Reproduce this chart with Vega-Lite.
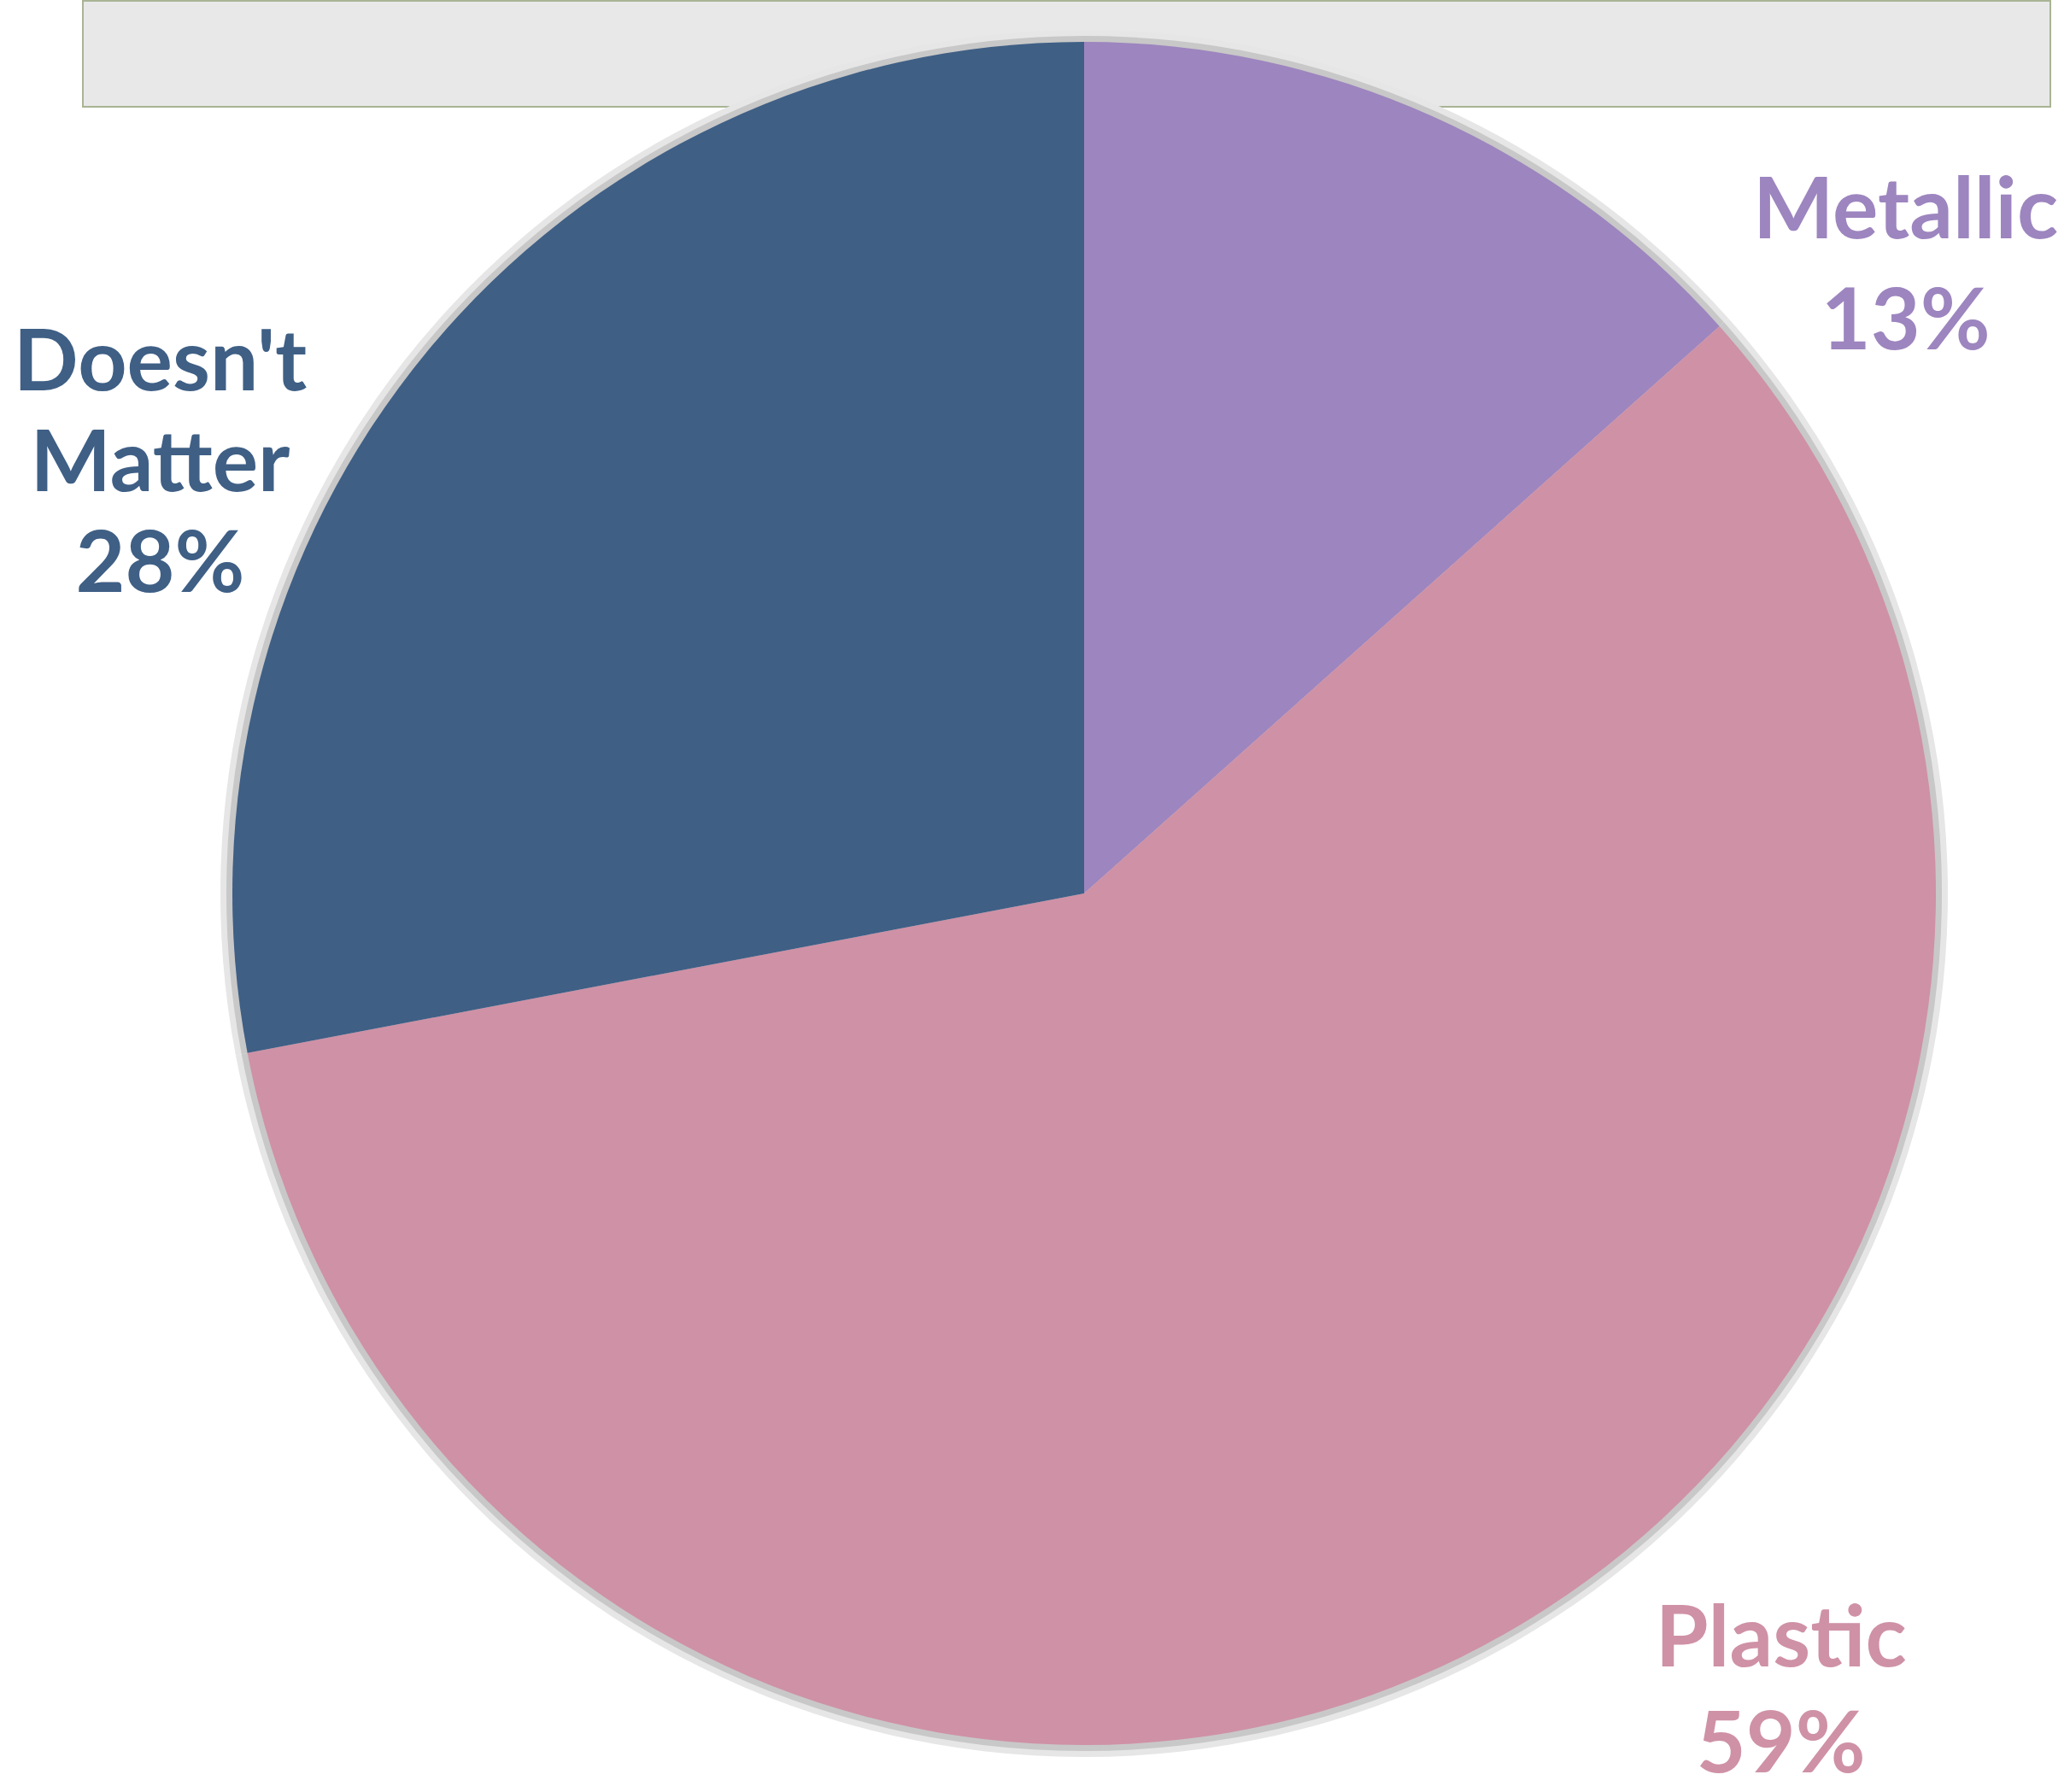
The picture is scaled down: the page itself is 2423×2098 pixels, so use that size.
{
  "$schema": "https://vega.github.io/schema/vega-lite/v6.json",
  "padding": {"left": 15, "top": 0, "right": 0, "bottom": 0},
  "background": "#FFFFFF",
  "bounds": "flush",
  "spacing": 0,
  "config": {
    "view": {"stroke": null},
    "concat": {"spacing": 0},
    "text": {"font": "Lato", "fontWeight": "bold", "fontSize": 100, "align": "center", "baseline": "alphabetic"}
  },
  "datasets": {
    "shares": [
      {"category": "Metallic", "value": 13.4},
      {"category": "Plastic", "value": 58.6},
      {"category": "Doesn't Matter", "value": 28.0}
    ]
  },
  "vconcat": [
    {"width": 2303, "height": 124, "view": {"fill": "#E8E8E8", "stroke": "#A8B494", "strokeWidth": 2}, "data": {"values": []}, "mark": {"type": "text", "text": ""}},
    {
      "width": 2344,
      "height": 1842,
      "data": {"name": "shares"},
      "transform": [
        {"calculate": "datum.category == 'Metallic' ? 0 : (datum.category == 'Plastic' ? 1 : 2)", "as": "idx"},
        {"stack": "value", "groupby": [], "sort": [{"field": "idx", "order": "ascending"}], "as": ["v0", "v1"]},
        {"calculate": "(datum.v0 + datum.v1) / 2", "as": "mid"},
        {"calculate": "split(replace(datum.category, ' ', '\\n') + '\\n' + format(datum.value, '.0f') + '%', '\\n')", "as": "label"}
      ],
      "layer": [
        {
          "mark": {"type": "arc", "radius": 1011, "fill": "#E6E6E6", "stroke": null},
          "encoding": {
            "theta": {"field": "v0", "type": "quantitative", "stack": null, "scale": {"domain": [0, 100]}},
            "theta2": {"field": "v1"}
          }
        },
        {
          "mark": {"type": "arc", "radius": 1004, "fill": "#C8C8C8", "stroke": null},
          "encoding": {
            "theta": {"field": "v0", "type": "quantitative", "stack": null},
            "theta2": {"field": "v1"}
          }
        },
        {
          "mark": {"type": "arc", "radius": 997, "stroke": null},
          "encoding": {
            "theta": {"field": "v0", "type": "quantitative", "stack": null},
            "theta2": {"field": "v1"},
            "color": {
              "field": "category",
              "type": "nominal",
              "scale": {"domain": ["Metallic", "Plastic", "Doesn't Matter"], "range": ["#9D85BF", "#CF91A6", "#3F5F85"]},
              "legend": null
            }
          }
        },
        {
          "transform": [{"filter": "datum.category == 'Metallic'"}],
          "mark": {"type": "text", "radius": 1000, "dx": 553, "dy": 146, "lineHeight": 130},
          "encoding": {
            "theta": {"field": "mid", "type": "quantitative", "stack": null},
            "text": {"field": "label"},
            "color": {"field": "category", "type": "nominal", "legend": null}
          }
        },
        {
          "transform": [{"filter": "datum.category == 'Plastic'"}],
          "mark": {"type": "text", "radius": 1000, "dx": 373, "dy": 8, "lineHeight": 124},
          "encoding": {
            "theta": {"field": "mid", "type": "quantitative", "stack": null},
            "text": {"field": "label"},
            "color": {"field": "category", "type": "nominal", "legend": null}
          }
        },
        {
          "transform": [{"filter": "datum.category == \"Doesn't Matter\""}],
          "mark": {"type": "text", "radius": 1000, "dx": -311, "dy": 48, "lineHeight": 118},
          "encoding": {
            "theta": {"field": "mid", "type": "quantitative", "stack": null},
            "text": {"field": "label"},
            "color": {"field": "category", "type": "nominal", "legend": null}
          }
        }
      ]
    }
  ]
}
